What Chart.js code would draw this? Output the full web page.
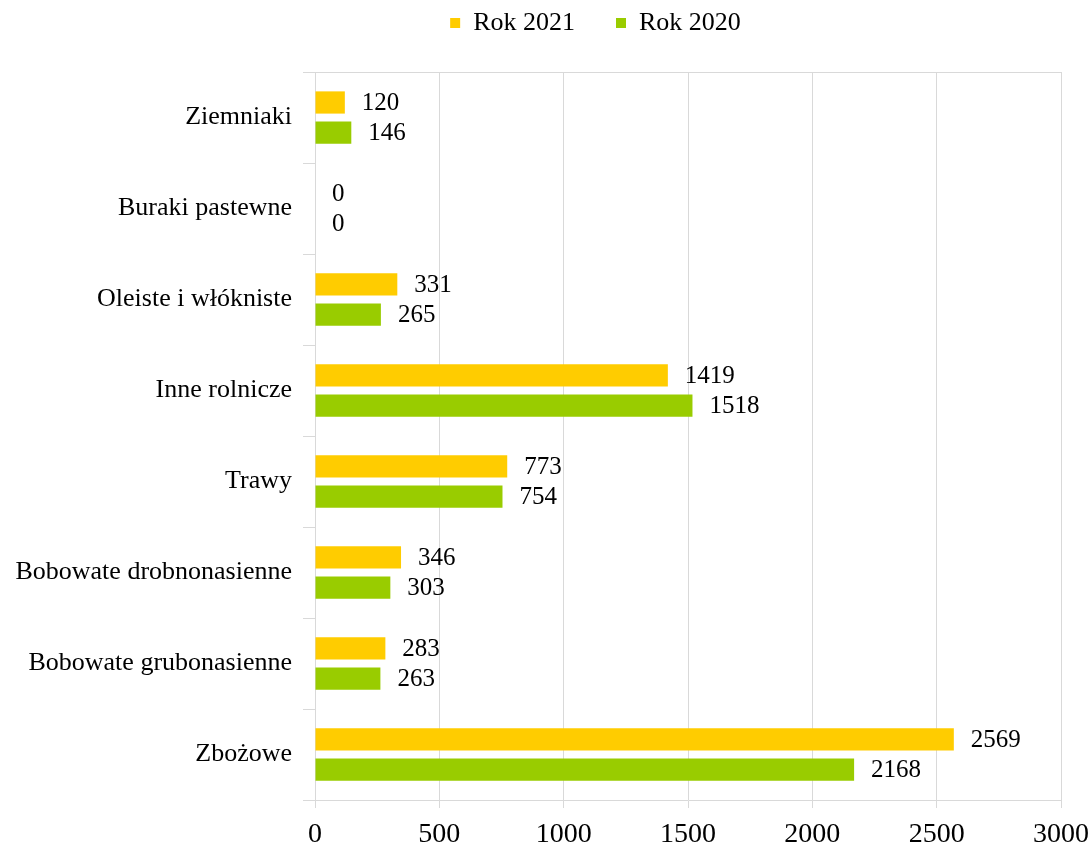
<!DOCTYPE html>
<html>
<head>
<meta charset="utf-8">
<script src="https://cdn.jsdelivr.net/npm/chart.js@4.4.1/dist/chart.umd.min.js"></script>
<style>
  html, body { margin: 0; padding: 0; background: #fff; }
  #wrap { width: 1092px; height: 848px; }
</style>
</head>
<body>
<div id="wrap"><canvas id="chartUprawy"></canvas></div>
<script>
const categories = ['Ziemniaki', 'Buraki pastewne', 'Oleiste i włókniste', 'Inne rolnicze',
	'Trawy', 'Bobowate drobnonasienne', 'Bobowate grubonasienne', 'Zbożowe'];
const rok2021 = [120, 0, 331, 1419, 773, 346, 283, 2569];
const rok2020 = [146, 0, 265, 1518, 754, 303, 263, 2168];
const xTicks = [0, 500, 1000, 1500, 2000, 2500, 3000];

const FONT = "'Liberation Serif', 'Times New Roman', serif";
const GRID = '#d9d9d9';
const PAD_TOP = -31;
const PLOT_TOP = 72;
const LEGEND_SHIFT = 130;

// etykiety z wartościami przy końcach słupków
const valueLabels = {
	id: 'valueLabels',
	afterDatasetsDraw(chart) {
		const ctx = chart.ctx;
		ctx.save();
		ctx.font = '25px ' + FONT;
		ctx.fillStyle = '#000';
		ctx.textBaseline = 'middle';
		ctx.textAlign = 'left';
		chart.data.datasets.forEach((ds, i) => {
			chart.getDatasetMeta(i).data.forEach((bar, j) => {
				ctx.fillText(String(ds.data[j]), bar.x + 17, bar.y + 1);
			});
		});
		ctx.restore();
	}
};

// legenda: stała wysokość i przesunięcie w prawo
const legendBox = {
	id: 'legendBox',
	beforeUpdate(chart) {
		const lg = chart.legend;
		if (!lg || lg._fixed) return;
		const fit = lg.fit;
		lg.fit = function () {
			fit.call(this);
			this.height = PLOT_TOP - PAD_TOP;
		};
		const draw = lg.draw;
		lg.draw = function () {
			const left = this.left;
			this.left = left + LEGEND_SHIFT;
			draw.call(this);
			this.left = left;
		};
		lg._fixed = true;
	}
};

new Chart(document.getElementById('chartUprawy'), {
	type: 'bar',
	data: {
		labels: categories,
		datasets: [
			{
				label: 'Rok 2021',
				data: rok2021,
				backgroundColor: '#ffcc00',
				categoryPercentage: 0.66,
				barPercentage: 0.74
			},
			{
				label: 'Rok 2020',
				data: rok2020,
				backgroundColor: '#99cc00',
				categoryPercentage: 0.66,
				barPercentage: 0.74
			}
		]
	},
	options: {
		indexAxis: 'y',
		responsive: true,
		maintainAspectRatio: false,
		animation: false,
		layout: { padding: { left: 0, right: 31, top: PAD_TOP, bottom: 0 } },
		plugins: {
			legend: {
				position: 'top',
				labels: {
					font: { family: FONT, size: 26 },
					color: '#000',
					boxWidth: 10,
					boxHeight: 10,
					padding: 41
				}
			},
			tooltip: { enabled: false }
		},
		scales: {
			x: {
				min: 0,
				max: 3000,
				afterBuildTicks: (scale) => { scale.ticks = xTicks.map(v => ({ value: v })); },
				afterFit: (scale) => {
					scale.height = 48;
					scale.paddingLeft = 0;
					scale.paddingRight = 0;
				},
				grid: { color: GRID, tickLength: 8, lineWidth: 1 },
				border: { color: GRID },
				ticks: {
					font: { family: FONT, size: 28 },
					color: '#000',
					padding: 10,
					maxRotation: 0,
					callback: (v) => String(v)
				}
			},
			y: {
				afterFit: (scale) => { scale.width = 315; },
				grid: {
					drawOnChartArea: true,
					color: (c) => c.index === 0 ? GRID : 'rgba(0,0,0,0)',
					tickColor: GRID,
					tickLength: 12
				},
				border: { color: GRID },
				ticks: {
					font: { family: FONT, size: 26 },
					color: '#000',
					padding: 11
				}
			}
		}
	},
	plugins: [valueLabels, legendBox]
});
</script>
</body>
</html>
